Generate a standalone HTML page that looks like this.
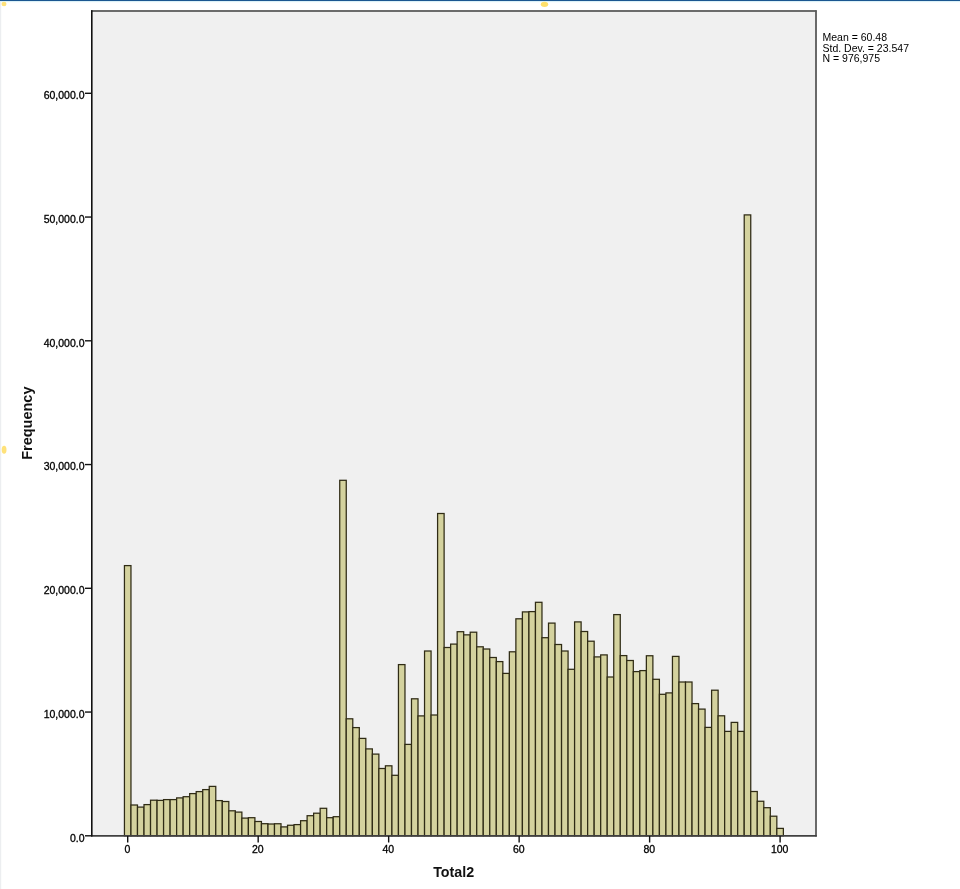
<!DOCTYPE html>
<html><head><meta charset="utf-8">
<style>
html,body{margin:0;padding:0;background:#fff;}
body{width:960px;height:889px;overflow:hidden;position:relative;}
svg{position:absolute;left:0;top:0;display:block;will-change:transform;}
text{font-family:"Liberation Sans",sans-serif;}
</style></head><body>
<svg width="960" height="889" viewBox="0 0 960 889">
<rect x="0" y="0" width="960" height="889" fill="#ffffff"/>
<rect x="0" y="0" width="960" height="1.2" fill="#1b5690"/>
<rect x="0" y="1.2" width="960" height="1" fill="#dff6fb"/>
<rect x="0" y="2" width="1.2" height="887" fill="#eceef0"/>
<ellipse cx="544.5" cy="4.3" rx="3.7" ry="2.6" fill="#ffe06a"/>
<ellipse cx="4" cy="4" rx="2.5" ry="2.2" fill="#ffe27a"/>
<ellipse cx="4.1" cy="449.8" rx="2.4" ry="4" fill="#ffe27a"/>
<rect x="91.5" y="11" width="724.5" height="824.8" fill="#f0f0f0"/>
<g fill="#d4d29e" stroke="#2f2b15" stroke-width="1.25">
<rect x="124.44" y="565.60" width="6.524" height="270.20"/>
<rect x="130.96" y="805.00" width="6.524" height="30.80"/>
<rect x="137.49" y="807.10" width="6.524" height="28.70"/>
<rect x="144.01" y="804.60" width="6.524" height="31.20"/>
<rect x="150.53" y="800.20" width="6.524" height="35.60"/>
<rect x="157.06" y="800.40" width="6.524" height="35.40"/>
<rect x="163.58" y="799.60" width="6.524" height="36.20"/>
<rect x="170.11" y="799.60" width="6.524" height="36.20"/>
<rect x="176.63" y="797.90" width="6.524" height="37.90"/>
<rect x="183.15" y="796.70" width="6.524" height="39.10"/>
<rect x="189.68" y="793.60" width="6.524" height="42.20"/>
<rect x="196.20" y="791.60" width="6.524" height="44.20"/>
<rect x="202.73" y="789.60" width="6.524" height="46.20"/>
<rect x="209.25" y="786.40" width="6.524" height="49.40"/>
<rect x="215.77" y="800.60" width="6.524" height="35.20"/>
<rect x="222.30" y="801.50" width="6.524" height="34.30"/>
<rect x="228.82" y="810.80" width="6.524" height="25.00"/>
<rect x="235.35" y="812.10" width="6.524" height="23.70"/>
<rect x="241.87" y="818.10" width="6.524" height="17.70"/>
<rect x="248.39" y="817.70" width="6.524" height="18.10"/>
<rect x="254.92" y="821.50" width="6.524" height="14.30"/>
<rect x="261.44" y="823.70" width="6.524" height="12.10"/>
<rect x="267.97" y="824.00" width="6.524" height="11.80"/>
<rect x="274.49" y="823.75" width="6.524" height="12.05"/>
<rect x="281.01" y="826.90" width="6.524" height="8.90"/>
<rect x="287.54" y="825.25" width="6.524" height="10.55"/>
<rect x="294.06" y="824.60" width="6.524" height="11.20"/>
<rect x="300.59" y="820.70" width="6.524" height="15.10"/>
<rect x="307.11" y="815.70" width="6.524" height="20.10"/>
<rect x="313.63" y="813.20" width="6.524" height="22.60"/>
<rect x="320.16" y="808.30" width="6.524" height="27.50"/>
<rect x="326.68" y="817.70" width="6.524" height="18.10"/>
<rect x="333.21" y="816.70" width="6.524" height="19.10"/>
<rect x="339.73" y="480.30" width="6.524" height="355.50"/>
<rect x="346.25" y="718.80" width="6.524" height="117.00"/>
<rect x="352.78" y="727.60" width="6.524" height="108.20"/>
<rect x="359.30" y="738.40" width="6.524" height="97.40"/>
<rect x="365.83" y="748.90" width="6.524" height="86.90"/>
<rect x="372.35" y="754.10" width="6.524" height="81.70"/>
<rect x="378.87" y="768.50" width="6.524" height="67.30"/>
<rect x="385.40" y="765.80" width="6.524" height="70.00"/>
<rect x="391.92" y="775.30" width="6.524" height="60.50"/>
<rect x="398.45" y="664.60" width="6.524" height="171.20"/>
<rect x="404.97" y="744.40" width="6.524" height="91.40"/>
<rect x="411.49" y="698.80" width="6.524" height="137.00"/>
<rect x="418.02" y="715.90" width="6.524" height="119.90"/>
<rect x="424.54" y="651.00" width="6.524" height="184.80"/>
<rect x="431.07" y="715.00" width="6.524" height="120.80"/>
<rect x="437.59" y="513.50" width="6.524" height="322.30"/>
<rect x="444.11" y="647.50" width="6.524" height="188.30"/>
<rect x="450.64" y="644.10" width="6.524" height="191.70"/>
<rect x="457.16" y="631.70" width="6.524" height="204.10"/>
<rect x="463.69" y="634.85" width="6.524" height="200.95"/>
<rect x="470.21" y="632.20" width="6.524" height="203.60"/>
<rect x="476.73" y="646.80" width="6.524" height="189.00"/>
<rect x="483.26" y="649.00" width="6.524" height="186.80"/>
<rect x="489.78" y="657.50" width="6.524" height="178.30"/>
<rect x="496.31" y="661.60" width="6.524" height="174.20"/>
<rect x="502.83" y="673.40" width="6.524" height="162.40"/>
<rect x="509.35" y="651.80" width="6.524" height="184.00"/>
<rect x="515.88" y="618.80" width="6.524" height="217.00"/>
<rect x="522.40" y="611.90" width="6.524" height="223.90"/>
<rect x="528.93" y="611.60" width="6.524" height="224.20"/>
<rect x="535.45" y="602.30" width="6.524" height="233.50"/>
<rect x="541.97" y="637.70" width="6.524" height="198.10"/>
<rect x="548.50" y="623.10" width="6.524" height="212.70"/>
<rect x="555.02" y="644.50" width="6.524" height="191.30"/>
<rect x="561.55" y="651.00" width="6.524" height="184.80"/>
<rect x="568.07" y="669.30" width="6.524" height="166.50"/>
<rect x="574.59" y="621.90" width="6.524" height="213.90"/>
<rect x="581.12" y="631.50" width="6.524" height="204.30"/>
<rect x="587.64" y="641.20" width="6.524" height="194.60"/>
<rect x="594.17" y="656.90" width="6.524" height="178.90"/>
<rect x="600.69" y="654.90" width="6.524" height="180.90"/>
<rect x="607.21" y="677.00" width="6.524" height="158.80"/>
<rect x="613.74" y="614.60" width="6.524" height="221.20"/>
<rect x="620.26" y="655.60" width="6.524" height="180.20"/>
<rect x="626.79" y="660.50" width="6.524" height="175.30"/>
<rect x="633.31" y="671.60" width="6.524" height="164.20"/>
<rect x="639.83" y="670.60" width="6.524" height="165.20"/>
<rect x="646.36" y="655.75" width="6.524" height="180.05"/>
<rect x="652.88" y="679.30" width="6.524" height="156.50"/>
<rect x="659.41" y="694.30" width="6.524" height="141.50"/>
<rect x="665.93" y="692.90" width="6.524" height="142.90"/>
<rect x="672.45" y="656.40" width="6.524" height="179.40"/>
<rect x="678.98" y="682.00" width="6.524" height="153.80"/>
<rect x="685.50" y="682.00" width="6.524" height="153.80"/>
<rect x="692.03" y="703.60" width="6.524" height="132.20"/>
<rect x="698.55" y="709.10" width="6.524" height="126.70"/>
<rect x="705.07" y="727.40" width="6.524" height="108.40"/>
<rect x="711.60" y="690.20" width="6.524" height="145.60"/>
<rect x="718.12" y="715.80" width="6.524" height="120.00"/>
<rect x="724.65" y="731.40" width="6.524" height="104.40"/>
<rect x="731.17" y="722.40" width="6.524" height="113.40"/>
<rect x="737.69" y="731.40" width="6.524" height="104.40"/>
<rect x="744.22" y="214.90" width="6.524" height="620.90"/>
<rect x="750.74" y="791.50" width="6.524" height="44.30"/>
<rect x="757.27" y="801.25" width="6.524" height="34.55"/>
<rect x="763.79" y="807.70" width="6.524" height="28.10"/>
<rect x="770.31" y="816.20" width="6.524" height="19.60"/>
<rect x="776.84" y="828.40" width="6.524" height="7.40"/>
</g>
<g fill="none" stroke-width="1.8">
<line x1="91" y1="11" x2="816.5" y2="11" stroke="#6b6c6b"/>
<line x1="816" y1="10.2" x2="816" y2="836.6" stroke="#5a5a5a"/>
<line x1="91" y1="835.8" x2="816.8" y2="835.8" stroke="#404040"/>
<line x1="91.8" y1="10.2" x2="91.8" y2="836.6" stroke="#111111" stroke-width="1.6"/>
</g>
<g stroke="#111" stroke-width="1.4" font-size="10.5" fill="#000">
<line x1="85" y1="835.80" x2="91.5" y2="835.80"/>
<text x="84.5" y="841.50" text-anchor="end" stroke="#000" stroke-width="0.3">0.0</text>
<line x1="85" y1="712.05" x2="91.5" y2="712.05"/>
<text x="84.5" y="717.75" text-anchor="end" stroke="#000" stroke-width="0.3">10,000.0</text>
<line x1="85" y1="588.30" x2="91.5" y2="588.30"/>
<text x="84.5" y="594.00" text-anchor="end" stroke="#000" stroke-width="0.3">20,000.0</text>
<line x1="85" y1="464.55" x2="91.5" y2="464.55"/>
<text x="84.5" y="470.25" text-anchor="end" stroke="#000" stroke-width="0.3">30,000.0</text>
<line x1="85" y1="340.80" x2="91.5" y2="340.80"/>
<text x="84.5" y="346.50" text-anchor="end" stroke="#000" stroke-width="0.3">40,000.0</text>
<line x1="85" y1="217.05" x2="91.5" y2="217.05"/>
<text x="84.5" y="222.75" text-anchor="end" stroke="#000" stroke-width="0.3">50,000.0</text>
<line x1="85" y1="93.30" x2="91.5" y2="93.30"/>
<text x="84.5" y="99.00" text-anchor="end" stroke="#000" stroke-width="0.3">60,000.0</text>
<line x1="127.70" y1="836" x2="127.70" y2="842.5"/>
<text x="127.30" y="852.5" text-anchor="middle" stroke="#000" stroke-width="0.3">0</text>
<line x1="258.18" y1="836" x2="258.18" y2="842.5"/>
<text x="257.78" y="852.5" text-anchor="middle" stroke="#000" stroke-width="0.3">20</text>
<line x1="388.66" y1="836" x2="388.66" y2="842.5"/>
<text x="388.26" y="852.5" text-anchor="middle" stroke="#000" stroke-width="0.3">40</text>
<line x1="519.14" y1="836" x2="519.14" y2="842.5"/>
<text x="518.74" y="852.5" text-anchor="middle" stroke="#000" stroke-width="0.3">60</text>
<line x1="649.62" y1="836" x2="649.62" y2="842.5"/>
<text x="649.22" y="852.5" text-anchor="middle" stroke="#000" stroke-width="0.3">80</text>
<line x1="780.10" y1="836" x2="780.10" y2="842.5"/>
<text x="779.70" y="852.5" text-anchor="middle" stroke="#000" stroke-width="0.3">100</text>
</g>
<g font-size="10.5" fill="#000" stroke="none">
<text x="822.5" y="41.3">Mean = 60.48</text>
<text x="822.5" y="51.6">Std. Dev. = 23.547</text>
<text x="822.5" y="62">N = 976,975</text>
</g>
<text x="453.7" y="876.9" text-anchor="middle" font-size="14.3" font-weight="bold" fill="#111">Total2</text>
<text transform="translate(32.4,423.2) rotate(-90)" text-anchor="middle" font-size="14.5" font-weight="bold" fill="#111">Frequency</text>
</svg>
</body></html>
